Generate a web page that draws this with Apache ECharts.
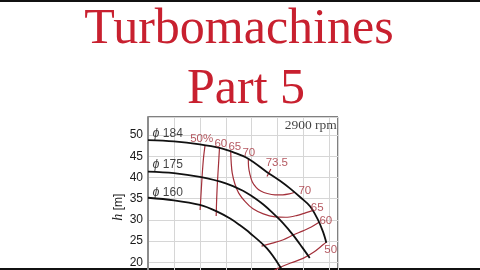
<!DOCTYPE html>
<html><head><meta charset="utf-8">
<script src="https://cdn.jsdelivr.net/npm/echarts@6/dist/echarts.min.js"></script>
<style>html,body{margin:0;padding:0;background:#fff}#c{width:480px;height:270px}</style>
</head><body><div id="c"></div>
<script>
// ---- data ----
const titleLine1 = 'Turbomachines';
const titleLine2 = 'Part 5';
const yName = '{i|h} [m]';

// impeller head curves (Q, h)
const Q184 = [0,10,20,28,33,38.7,45.8,50.9,55,59,62.5,65.5,67.5,68.8];
const H184 = [48.8,48.5,47.8,46.9,45.9,44.4,41.3,39.2,37.3,35.2,33.2,30.1,27.2,24.6];
const Q175 = [0,10,20,30,36.8,40,44.5,48.3,52,56,59.5,62.4];
const H175 = [41.35,41.0,40.1,38.6,36.8,35.6,33.6,31.5,29.3,26.4,23.5,21.0];
const Q160 = [0,10,20,26.5,31.7,35.5,39.3,45.8,50.9,53];
const H160 = [35.2,34.6,33.5,32.0,30.3,28.7,26.9,23.3,19.0,16.5];

// iso-efficiency curves
const Qe50a = [22.0,21.4,20.9,20.5,20.1];
const He50a = [47.5,44.5,40.5,36.5,32.3];
const Qe60a = [27.6,27.2,26.8,26.5,26.3];
const He60a = [47.1,43.0,39.0,35.0,30.9];
const Qe65 = [31.9,32.1,32.5,33.5,35.0,37.5,40.5,44.5,49.0,53.0,57.3,61.0,64.0];
const He65 = [46.3,43.5,41.0,38.5,36.3,34.3,32.6,31.4,30.7,30.6,31.0,31.7,32.3];
const Qe70 = [38.7,38.8,39.3,40.2,41.8,43.5,46.0,49.0,52.0,54.5,56.7];
const He70 = [44.6,42.5,40.8,39.0,37.6,36.8,36.2,35.9,35.9,36.1,36.5];
const Qe735 = [45.9,47.4];
const He735 = [40.2,42.0];
const Qe60b = [43.8,48.0,52.2,56.0,59.8,63.0,66.0];
const He60b = [23.8,24.5,25.3,26.4,27.4,28.3,29.4];
const Qe50b = [48.5,51.0,55.0,59.8,64.0,67.5,68.9];
const He50b = [18.0,18.8,19.8,20.9,22.4,24.1,24.8];

// text labels [text, Q, h]
const diaLabels = [['{i|ϕ} 184',7.6,50.4],['{i|ϕ} 175',7.6,43.1],['{i|ϕ} 160',7.6,36.5]];
const rpmLabels = [['2900 rpm',62.8,52.2]];
const effLabels = [['50%',20.7,49.0],['60',28.1,48.0],['65',33.5,47.2],['70',38.9,45.7],['73.5',49.7,43.4],
                   ['70',60.5,36.9],['65',65.3,32.9],['60',68.6,29.8],['50',70.5,22.9]];

// ---- chart ----
const zip = (a,b) => a.map((v,i) => [v,b[i]]);
const RED = '#a3303a';
const SANS = '"Liberation Sans", sans-serif';
const blackCurve = (q,h) => ({type:'line', data: zip(q,h), symbol:'none', smooth:0.35, z:5,
  lineStyle:{color:'#111', width:1.8}});
const redCurve = (q,h) => ({type:'line', data: zip(q,h), symbol:'none', smooth:0.35, z:4,
  lineStyle:{color:RED, width:1.2}});
const textSeries = (arr, color, family, size) => ({type:'scatter', symbolSize:1, z:6,
  itemStyle:{color:'rgba(0,0,0,0)'},
  data: arr.map(a => ({value:[a[1],a[2]], label:{formatter:a[0]}})),
  label:{show:true, position:'inside', color:color, fontFamily:family, fontSize:size,
    rich:{i:{fontStyle:'italic', color:color, fontFamily:family, fontSize:size+0.5}}}});

const chart = echarts.init(document.getElementById('c'), null, {renderer:'canvas'});
chart.setOption({
  animation:false,
  backgroundColor:'#fff',
  title:[
    {text:titleLine1, left:239, top:5, padding:0, textAlign:'center',
     textStyle:{color:'#c8202f', fontFamily:'Liberation Serif', fontSize:50, fontWeight:'normal'}},
    {text:titleLine2, left:246, top:65, padding:0, textAlign:'center',
     textStyle:{color:'#c8202f', fontFamily:'Liberation Serif', fontSize:50, fontWeight:'normal'}}
  ],
  graphic:[
    {type:'rect', left:0, top:0, shape:{width:480,height:2}, style:{fill:'#111'}},
    {type:'rect', left:0, top:268, shape:{width:480,height:2}, style:{fill:'#111'}}
  ],
  grid:{left:148, top:117, width:190, height:166.4, show:true, borderColor:'#000', borderWidth:1,
        containLabel:false, outerBoundsMode:'none'},
  xAxis:{type:'value', min:0, max:73.3, interval:10,
    axisLine:{show:false}, axisTick:{show:false}, axisLabel:{show:false},
    splitLine:{show:true, lineStyle:{color:'#d6d6d6', width:1}}},
  yAxis:{type:'value', min:15, max:54.25, interval:5,
    axisLine:{show:true, lineStyle:{color:'#8c8c8c', width:2}},
    axisTick:{show:false},
    axisLabel:{margin:5, color:'#1a1a1a', fontFamily:SANS, fontSize:12,
      formatter: v => (Math.abs(v % 5) < 1e-6 ? String(v) : '')},
    splitLine:{show:true, lineStyle:{color:'#d6d6d6', width:1}},
    name:yName, nameLocation:'middle', nameRotate:90, nameGap:22,
    nameTextStyle:{color:'#1a1a1a', fontFamily:SANS, fontSize:12, padding:[0,14,0,0],
      rich:{i:{fontStyle:'italic', fontFamily:'Liberation Serif', fontSize:14, color:'#1a1a1a'}}}},
  series:[
    redCurve(Qe50a,He50a), redCurve(Qe60a,He60a), redCurve(Qe65,He65), redCurve(Qe70,He70),
    redCurve(Qe735,He735), redCurve(Qe60b,He60b), redCurve(Qe50b,He50b),
    blackCurve(Q184,H184), blackCurve(Q175,H175), blackCurve(Q160,H160),
    textSeries(diaLabels,'#111',SANS,12),
    textSeries(rpmLabels,'#111','Liberation Serif',13.5),
    textSeries(effLabels,RED,SANS,11.5)
  ]
});
</script></body></html>
